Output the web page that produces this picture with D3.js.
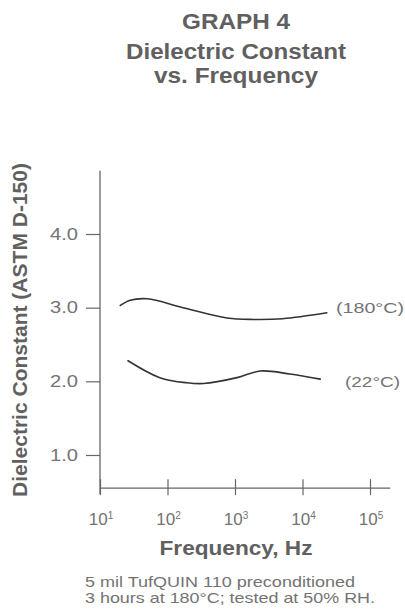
<!DOCTYPE html>
<html>
<head>
<meta charset="utf-8">
<script src="https://cdn.jsdelivr.net/npm/d3@7/dist/d3.min.js"></script>
<style>
  html, body { margin: 0; padding: 0; background: #fff; }
  svg { display: block; }
  text { font-family: "Liberation Sans", Arial, Helvetica, sans-serif; }
</style>
</head>
<body>
<svg id="chart" width="405" height="615"></svg>
<script>
// ---- data ----
const titleLines = ["GRAPH 4", "Dielectric Constant", "vs. Frequency"];
const yTicks = [1.0, 2.0, 3.0, 4.0];
const xTickExponents = [1, 2, 3, 4, 5];
const yLabel = "Dielectric Constant (ASTM D-150)";
const xLabel = "Frequency, Hz";
const footnote = ["5 mil TufQUIN 110 preconditioned", "3 hours at 180\u00B0C; tested at 50% RH."];

const seriesNames = ["(180\u00B0C)", "(22\u00B0C)"];
const freq180 = [20, 28, 50, 170, 760, 1870, 5100, 22900];
const dk180   = [3.03, 3.10, 3.12, 3.00, 2.86, 2.84, 2.85, 2.93];
const freq22  = [26, 77, 195, 340, 1070, 2350, 6500, 18300];
const dk22    = [2.28, 2.05, 1.98, 1.97, 2.05, 2.14, 2.10, 2.03];

// ---- layout ----
const svg = d3.select("#chart");
const x = d3.scaleLog().domain([10, 1e5]).range([100, 370]);
const y = d3.scaleLinear().domain([1, 4]).range([455, 234]);
const yMin = 0.55, yMax = 4.86, xMaxExp = 5.3;
const axisY = y(yMin);
const gray = "#606060";
const light = "#737373";

// title
const titleBase = [29, 59, 83];
const titleLen = [108, 220, 164];
titleLines.forEach((t, i) => {
  svg.append("text").attr("x", 236).attr("y", titleBase[i])
    .attr("text-anchor", "middle")
    .attr("font-size", 22).attr("font-weight", "bold").attr("fill", gray)
    .attr("textLength", titleLen[i]).attr("lengthAdjust", "spacingAndGlyphs")
    .text(t);
});

// y axis
const yAxis = d3.axisLeft(y).tickValues(yTicks).tickSize(14).tickFormat(d3.format(".1f"));
const gy = svg.append("g").attr("transform", `translate(${x(10)},0)`).call(yAxis);
gy.select(".domain").remove();
gy.selectAll(".tick line").attr("stroke", "#666").attr("stroke-width", 1.2);
gy.selectAll(".tick text").attr("font-size", 16).attr("fill", light)
  .attr("x", -22).attr("textLength", 28).attr("lengthAdjust", "spacingAndGlyphs")
  .style("font-family", "'Liberation Sans', Arial, sans-serif");
svg.append("line").attr("x1", x(10)).attr("x2", x(10))
  .attr("y1", y(yMax)).attr("y2", axisY + 6)
  .attr("stroke", "#666").attr("stroke-width", 1.3);

// x axis
const xAxis = d3.axisBottom(x).tickValues(xTickExponents.map(e => Math.pow(10, e))).tickSize(7).tickFormat("");
const gx = svg.append("g").attr("transform", `translate(0,${axisY})`).call(xAxis);
gx.select(".domain").remove();
gx.selectAll(".tick line").attr("y1", -9).attr("y2", 7).attr("stroke", "#666").attr("stroke-width", 1.2);
svg.append("line").attr("x1", x(10)).attr("x2", x(Math.pow(10, xMaxExp)))
  .attr("y1", axisY).attr("y2", axisY).attr("stroke", "#666").attr("stroke-width", 1.3);
xTickExponents.forEach(e => {
  const t = svg.append("text").attr("x", x(Math.pow(10, e)) + 1).attr("y", 525)
    .attr("text-anchor", "middle").attr("font-size", 17).attr("fill", light);
  t.append("tspan").text("10");
  t.append("tspan").attr("font-size", 10).attr("dy", -6).text(String(e));
});

// axis labels
svg.append("text").attr("transform", `translate(27,330) rotate(-90)`)
  .attr("text-anchor", "middle").attr("font-size", 20).attr("font-weight", "bold").attr("fill", gray)
  .attr("textLength", 334).attr("lengthAdjust", "spacingAndGlyphs")
  .text(yLabel);
svg.append("text").attr("x", 236).attr("y", 555)
  .attr("text-anchor", "middle").attr("font-size", 21).attr("font-weight", "bold").attr("fill", gray)
  .attr("textLength", 153).attr("lengthAdjust", "spacingAndGlyphs")
  .text(xLabel);

// curves
const line = d3.line().x(d => x(d[0])).y(d => y(d[1])).curve(d3.curveCatmullRom.alpha(0.5));
const s180 = freq180.map((f, i) => [f, dk180[i]]);
const s22 = freq22.map((f, i) => [f, dk22[i]]);
[s180, s22].forEach(s => {
  svg.append("path").datum(s).attr("d", line)
    .attr("fill", "none").attr("stroke", "#333").attr("stroke-width", 1.6)
    .attr("stroke-linecap", "round");
});

// series labels
svg.append("text").attr("x", 336).attr("y", y(3.0) + 5)
  .attr("font-size", 14).attr("fill", light)
  .attr("textLength", 68).attr("lengthAdjust", "spacingAndGlyphs").text(seriesNames[0]);
svg.append("text").attr("x", 345).attr("y", y(2.0) + 6)
  .attr("font-size", 14).attr("fill", light)
  .attr("textLength", 55).attr("lengthAdjust", "spacingAndGlyphs").text(seriesNames[1]);

// footnote
const footBase = [587, 603];
const footLen = [270, 290];
footnote.forEach((t, i) => {
  svg.append("text").attr("x", 85).attr("y", footBase[i])
    .attr("font-size", 15).attr("fill", light)
    .attr("textLength", footLen[i]).attr("lengthAdjust", "spacingAndGlyphs")
    .text(t);
});
</script>
</body>
</html>
